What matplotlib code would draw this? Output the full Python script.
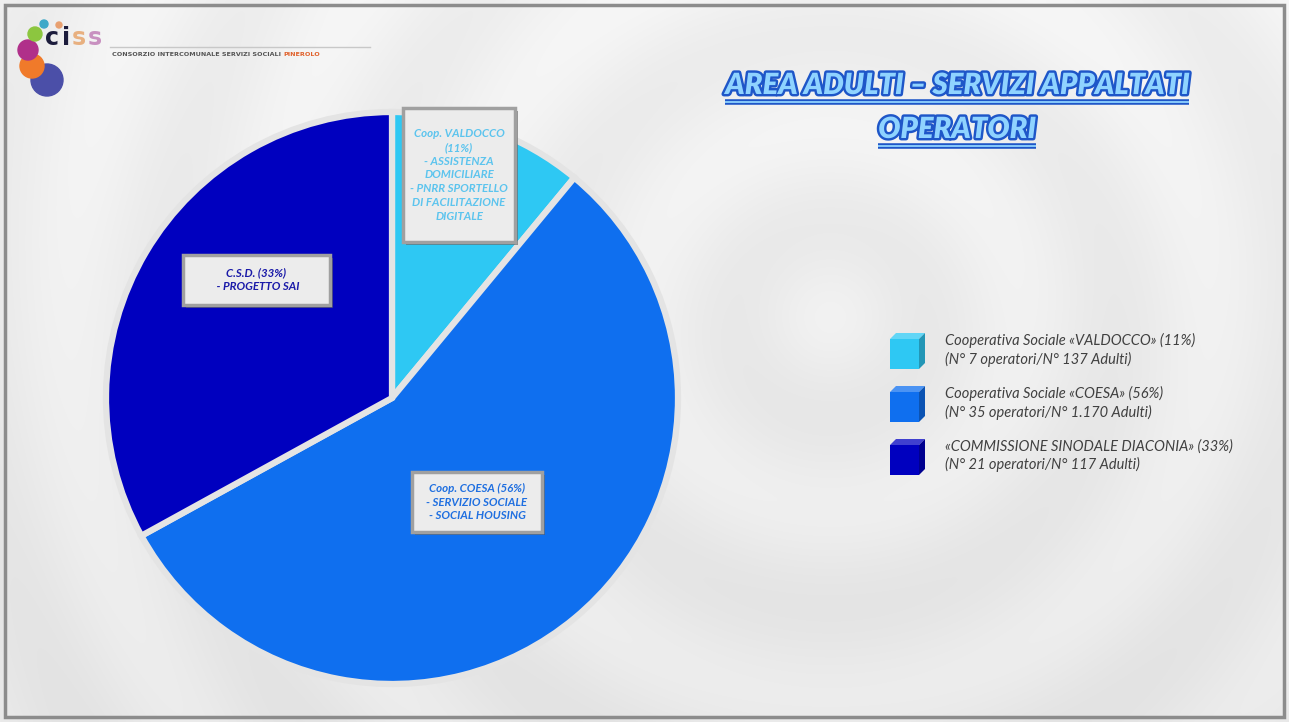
# Grafico a torta: Area Adulti - servizi appaltati, operatori

import matplotlib
matplotlib.use("Agg")
import matplotlib.pyplot as plt
import matplotlib.patheffects as pe
from matplotlib.patches import Rectangle, Polygon, Circle
from matplotlib.colors import to_rgb
import numpy as np

# Dati
categorie = ['Cooperativa Sociale «VALDOCCO»', 'Cooperativa Sociale «COESA»', '«COMMISSIONE SINODALE DIACONIA»']
percentuali = [11, 56, 33]
operatori = [7, 35, 21]
adulti = ['137', '1.170', '117']
colori = ['#2EC8F3', '#0F6FEF', '#0000BF']
etichette_torta = [
    'Coop. VALDOCCO\n(11%)\n- ASSISTENZA\nDOMICILIARE\n- PNRR SPORTELLO\nDI FACILITAZIONE\nDIGITALE',
    'Coop. COESA (56%)\n- SERVIZIO SOCIALE\n- SOCIAL HOUSING',
    'C.S.D. (33%)\n - PROGETTO SAI',
]
colori_etichette = ['#5CC4EE', '#1F6FE0', '#1A1AA8']
titolo = ['AREA ADULTI – SERVIZI APPALTATI', 'OPERATORI']

W, H = 1289, 722
fig = plt.figure(figsize=(W / 100, H / 100), dpi=100)

# Sfondo (coordinate in pixel)
ax_bg = fig.add_axes([0, 0, 1, 1], zorder=0)
ax_bg.set_xlim(0, W)
ax_bg.set_ylim(H, 0)
ax_bg.axis('off')

yy, xx = np.mgrid[0:H, 0:W]
r = np.hypot(xx - 830, yy - 320)
sfondo = 0.89 + 0.035 * (0.5 + 0.5 * np.cos(2 * np.pi * r / 190)) + 0.04 * (1 - yy / H)
sfondo = np.clip(sfondo, 0, 1)
ax_bg.imshow(np.dstack([sfondo] * 3), extent=[0, W, H, 0], aspect='auto', zorder=0)
ax_bg.add_patch(Rectangle((5, 5), W - 10, H - 10, fill=False, ec='#8C8C8C', lw=2.5, zorder=1))

# Logo
for (cx, cy, rr, c) in [(47, 80, 16, '#4B4FA8'), (32, 66, 12, '#F07A2A'), (28, 50, 10, '#B0308A'),
                        (35, 34, 7, '#8CC63F'), (44, 24, 4, '#3FA9C8'), (59, 25, 3, '#E8A070')]:
    ax_bg.add_patch(Circle((cx, cy), rr, color=c, zorder=2))
for lettera, xl, cl in zip('ciss', [45, 62, 72, 88], ['#1C1C3C', '#1C1C3C', '#E8B080', '#C890C0']):
    ax_bg.text(xl, 45, lettera, fontsize=17, fontweight='bold', color=cl, va='baseline', zorder=3)
ax_bg.plot([110, 370], [47, 47], color='#C8C8C8', lw=1, zorder=2)
t_logo = ax_bg.text(112, 55, 'CONSORZIO INTERCOMUNALE SERVIZI SOCIALI ', fontsize=4.6, fontweight='bold',
                    color='#555555', va='center', zorder=3)

# Torta
cx_p, cy_p, r_p = 392, 398, 286
ax_pie = fig.add_axes([(cx_p - r_p) / W, 1 - (cy_p + r_p) / H, 2 * r_p / W, 2 * r_p / H], zorder=1)
ax_pie.pie(percentuali, colors=colori, startangle=90, counterclock=False,
           wedgeprops=dict(edgecolor='#E4E4E4', linewidth=4.5))
ax_pie.set_xlim(-1, 1)
ax_pie.set_ylim(-1, 1)
ax_pie.set_aspect('equal')
ax_pie.axis('off')

# Livello superiore per etichette, legenda, titolo
ax = fig.add_axes([0, 0, 1, 1], zorder=2)
ax.set_xlim(0, W)
ax.set_ylim(H, 0)
ax.axis('off')
ax.patch.set_alpha(0)

ombra = [pe.SimplePatchShadow(offset=(2, -2), shadow_rgbFace='#555555', alpha=0.6), pe.Normal()]
box_etichette = [(403, 108, 112, 134), (412, 472, 130, 60), (183, 255, 147, 50)]
for (x0, y0, w, h), testo, col in zip(box_etichette, etichette_torta, colori_etichette):
    rett = Rectangle((x0, y0), w, h, fc='#ECECEC', ec='#A0A0A0', lw=2.5)
    rett.set_path_effects(ombra)
    ax.add_patch(rett)
    ax.text(x0 + w / 2, y0 + h / 2, testo, ha='center', va='center', fontsize=8.3,
            fontweight='bold', style='italic', family='Lato', color=col, linespacing=1.3)

# Legenda con cubetti
y_legenda = [350, 403, 456]
for yc, cat, p, op, ad, c in zip(y_legenda, categorie, percentuali, operatori, adulti, colori):
    base = np.array(to_rgb(c))
    chiaro = base + (1 - base) * 0.25
    scuro = base * 0.75
    x0, y0 = 890, yc - 17
    ax.add_patch(Polygon([(x0, y0 + 6), (x0 + 6, y0), (x0 + 35, y0), (x0 + 29, y0 + 6)], closed=True,
                         fc=chiaro, ec='none'))
    ax.add_patch(Polygon([(x0 + 29, y0 + 6), (x0 + 35, y0), (x0 + 35, y0 + 30), (x0 + 29, y0 + 36)],
                         closed=True, fc=scuro, ec='none'))
    ax.add_patch(Rectangle((x0, y0 + 6), 29, 30, fc=c, ec='none'))
    ax.text(945, yc, f'{cat} ({p}%)\n(N° {op} operatori/N° {ad} Adulti)', ha='left', va='center',
            fontsize=10.5, style='italic', family='Lato', color='#404040', linespacing=1.25)

# Titolo con contorno e sottolineatura
effetti_titolo = [pe.withStroke(linewidth=3.5, foreground='#1E56C8')]
testi_titolo = []
for riga, yt in zip(titolo, [86, 130]):
    t = ax.text(957, yt, riga, ha='center', va='center', fontsize=21, fontweight='heavy',
                style='italic', family='Lato', color='#8FD3FF', path_effects=effetti_titolo)
    testi_titolo.append(t)

fig.canvas.draw()
rend = fig.canvas.get_renderer()
inv = ax.transData.inverted()
for t in testi_titolo:
    bb = t.get_window_extent(rend)
    (xa, ya), (xb, yb) = inv.transform([(bb.x0, bb.y0), (bb.x1, bb.y1)])
    ax.plot([xa, xb], [ya + 3, ya + 3], color='#1E56C8', lw=4, solid_capstyle='butt')
    ax.plot([xa, xb], [ya + 3, ya + 3], color='#8FD3FF', lw=1.3, solid_capstyle='butt')

# PINEROLO accanto alla dicitura del logo
bb = t_logo.get_window_extent(rend)
x_fine = ax_bg.transData.inverted().transform((bb.x1, bb.y0))[0]
ax_bg.text(x_fine, 55, 'PINEROLO', fontsize=4.6, fontweight='bold', color='#E0602A', va='center', zorder=3)

fig.savefig('out.png', dpi=100)
plt.close(fig)
